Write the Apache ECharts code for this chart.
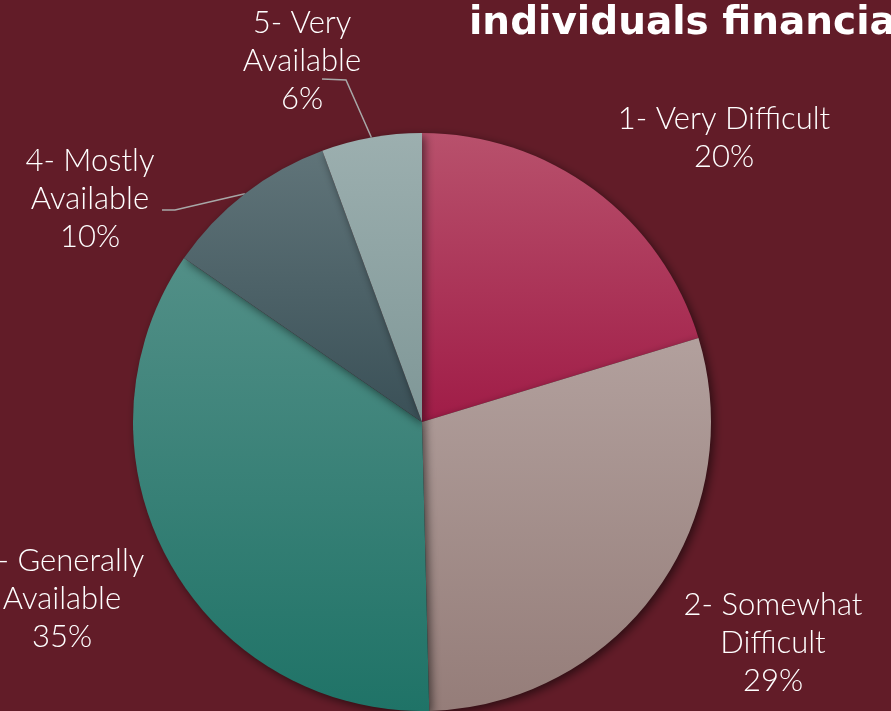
<!DOCTYPE html>
<html>
<head>
<meta charset="utf-8">
<script src="https://cdn.jsdelivr.net/npm/echarts@6/dist/echarts.min.js"></script>
<style>
html,body{margin:0;padding:0;background:#621C28;}
#c{width:891px;height:711px;}
</style>
</head>
<body>
<div id="c"></div>
<script>
const titleText = 'individuals financially';
const categories = ['1- Very Difficult', '2- Somewhat\nDifficult', '3- Generally\nAvailable', '4- Mostly\nAvailable', '5- Very\nAvailable'];
const values = [20.3, 29.3, 35.0, 9.8, 5.6];
const showLine = [false, false, false, true, true];

const gradients = [
  ['#B8516C', '#A01C47'],
  ['#B2A09D', '#957D79'],
  ['#528F87', '#1F7367'],
  ['#607479', '#3A5057'],
  ['#9CAFAF', '#7F9797']
];
// label centers (px) and leader-line bends (px)
const labelPos = [[724, 138], [773, 643], [62, 599], [90, 199], [302, 61]];
const leaderBends = [null, null, null, [[175, 210], [162, 210]], [[346, 80], [322, 79]]];

const chart = echarts.init(document.getElementById('c'));
const data = categories.map((name, i) => ({
  name: name,
  value: values[i],
  itemStyle: {
    color: {
      type: 'linear', x: 0, y: 0, x2: 0, y2: 1,
      colorStops: [{offset: 0, color: gradients[i][0]}, {offset: 1, color: gradients[i][1]}]
    }
  },
  labelLine: {show: showLine[i]}
}));

chart.setOption({
  backgroundColor: '#621C28',
  animation: false,
  title: {
    text: titleText,
    left: 464,
    top: -1,
    textStyle: {color: '#FFFFFF', fontFamily: 'DejaVu Sans', fontWeight: 'bold', fontSize: 39}
  },
  series: [{
    type: 'pie',
    center: [422, 422],
    radius: [0, 289],
    startAngle: 90,
    clockwise: true,
    percentPrecision: 0,
    data: data,
    itemStyle: {
      shadowBlur: 10,
      shadowColor: 'rgba(0,0,0,0.55)',
      shadowOffsetX: 3,
      shadowOffsetY: 3
    },
    label: {
      show: true,
      position: 'outside',
      formatter: p => p.name + '\n' + Math.round(p.percent) + '%',
      color: '#FFFFFF',
      fontFamily: 'Lato',
      fontWeight: 300,
      fontSize: 31,
      lineHeight: 38,
      align: 'center',
      overflow: 'none'
    },
    labelLine: {
      lineStyle: {color: '#A8A8A8', width: 1.5}
    },
    labelLayout: function (params) {
      const i = params.dataIndex;
      const p = labelPos[i];
      const out = {x: p[0], y: p[1], align: 'center', verticalAlign: 'middle'};
      if (leaderBends[i] && params.labelLinePoints) {
        out.labelLinePoints = [params.labelLinePoints[0]].concat(leaderBends[i]);
      }
      return out;
    },
    emphasis: {disabled: true}
  }]
});
</script>
</body>
</html>
